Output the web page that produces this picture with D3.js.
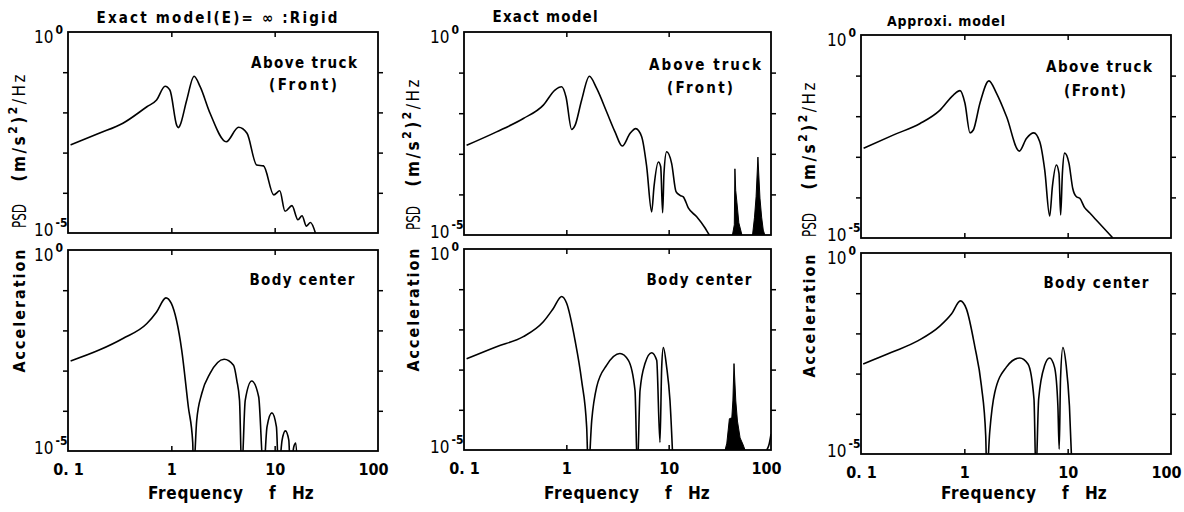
<!DOCTYPE html>
<html>
<head>
<meta charset="utf-8">
<script src="https://cdn.jsdelivr.net/npm/d3@7"></script>
<style>
  body { margin: 0; background: #fff; }
  svg text { font-family: "DejaVu Sans Condensed", "Liberation Sans Narrow", "DejaVu Sans", sans-serif; font-weight: bold; fill: #000; }
  svg text.thin { font-weight: normal; }
</style>
</head>
<body>
<div id="chart"></div>
<script>
// axis ticks
const xTicks = [0.1, 1, 10, 100];
const xTickLabels = ["0. 1", "1", "10", "100"];
const yDecades = [1e0, 1e-1, 1e-2, 1e-3, 1e-4, 1e-5];
const yTickExponents = ["0", "-5"];

// Exact model, rigid body (E = inf) - above truck (front)
const freqRigidFront = [0.106, 0.2, 0.34, 0.58, 0.72, 0.87, 0.97, 1.13, 1.17, 1.21, 1.41, 1.66, 1.90, 2.37, 3.4, 4.47, 5.4, 6.7, 7.8, 9.8, 11.2, 12.6, 14.7, 16.8, 18.4, 20.3, 22.2, 24.8];
const psdRigidFront = [1.55e-3, 3.02e-3, 5.37e-3, 1.38e-2, 2.04e-2, 4.47e-2, 3.55e-2, 4.68e-3, 4.17e-3, 4.68e-3, 2.04e-2, 7.94e-2, 4.37e-2, 9.55e-3, 1.86e-3, 4.27e-3, 3.02e-3, 4.9e-4, 4.68e-4, 8.9e-5, 1.12e-4, 3.47e-5, 4.79e-5, 2.14e-5, 2.69e-5, 1.48e-5, 1.82e-5, 1.0e-5];

// rigid - body center
const freqRigidBody = [0.106, 0.2, 0.34, 0.58, 0.72, 0.887, 1.0, 1.26, 1.46, 1.61, 1.64, 1.76, 1.97, 2.37, 3.24, 4.0, 4.3, 4.57, 4.8, 5.19, 6.0, 7.0, 7.8, 8.43, 9.4, 10.4, 10.9, 11.8, 12.7, 13.7, 14.2, 15.3, 16.0, 16.7];
const psdRigidBody = [1.74e-3, 3.24e-3, 6.3e-3, 1.48e-2, 2.88e-2, 6.46e-2, 4.68e-2, 3.24e-3, 1.26e-4, 1.66e-5, 3e-6, 5.75e-5, 2.69e-4, 8.5e-4, 1.91e-3, 1.35e-3, 5.75e-4, 1.82e-4, 3e-6, 1.82e-4, 5.5e-4, 2.24e-4, 3e-6, 3.98e-5, 8.9e-5, 3.98e-5, 3e-6, 1.86e-5, 3.16e-5, 1.86e-5, 3e-6, 1.26e-5, 1.58e-5, 3e-6];

// Exact model - above truck (front)
const freqExactFront = [0.106, 0.208, 0.38, 0.596, 0.774, 0.90, 0.993, 1.127, 1.216, 1.41, 1.68, 1.98, 2.48, 2.99, 3.52, 4.19, 4.76, 5.45, 6.10, 6.82, 7.19, 7.93, 8.36, 8.73, 9.0, 9.55, 10.7, 11.8, 12.9, 13.9, 15.6, 18.8, 22.6, 25, 27];
const psdExactFront = [1.62e-3, 3.47e-3, 7.4e-3, 1.58e-2, 3.72e-2, 4.47e-2, 2.51e-2, 3.98e-3, 5.0e-3, 2.09e-2, 8.1e-2, 4.07e-2, 1.07e-2, 3.47e-3, 1.55e-3, 3.16e-3, 4.17e-3, 2.63e-3, 4.79e-4, 3.72e-5, 1.55e-4, 6.3e-4, 4.79e-4, 3.55e-5, 3.31e-4, 1.12e-3, 5.75e-4, 1.17e-4, 9.5e-5, 8.7e-5, 4.57e-5, 2.82e-5, 1.51e-5, 1.0e-5, 8e-6];
// high-frequency bursts (envelopes, filled)
const freqExactFrontBurst1 = [42.0, 43.8, 44.4, 45.2, 46.5, 48.5, 52];
const psdExactFrontBurst1 = [1e-5, 1.78e-5, 4.27e-4, 1.26e-4, 6.17e-5, 2.0e-5, 1e-5];
const freqExactFrontBurst2 = [66, 69, 71.5, 74.5, 78, 81, 84, 87];
const psdExactFrontBurst2 = [1e-5, 2.75e-5, 8.7e-5, 8.3e-4, 8.1e-5, 2.75e-5, 1.32e-5, 1e-5];

// Exact model - body center
const freqExactBody = [0.106, 0.208, 0.38, 0.596, 0.746, 0.90, 1.007, 1.216, 1.41, 1.58, 1.64, 1.77, 1.98, 2.48, 3.34, 4.04, 4.69, 4.94, 5.25, 5.87, 6.82, 7.64, 8.22, 8.55, 8.87, 9.55, 10.3, 11.1];
const psdExactBody = [1.86e-3, 3.72e-3, 6.6e-3, 1.55e-2, 3.31e-2, 6.6e-2, 4.47e-2, 5.37e-3, 5.37e-4, 3.72e-5, 3e-6, 5.37e-5, 3.72e-4, 1.29e-3, 2.51e-3, 1.7e-3, 3.02e-4, 3e-6, 3.02e-4, 1.41e-3, 2.63e-3, 1.7e-3, 1.55e-5, 1.17e-3, 3.55e-3, 1.17e-3, 1.7e-4, 3e-6];
const freqExactBodyBurst = [35.6, 37, 39.2, 41.4, 42.4, 43.5, 45.3, 47, 49.9, 53, 55.8];
const psdExactBodyBurst = [1e-5, 1.48e-5, 6.0e-5, 6.3e-5, 1.66e-4, 1.41e-3, 1.66e-4, 5.25e-5, 2.0e-5, 1.41e-5, 1e-5];
const freqExactBodyEdge = [91, 96, 100];
const psdExactBodyEdge = [1e-5, 1.41e-5, 2.5e-5];

// Approximate model - above truck (front)
const freqApproxFront = [0.106, 0.207, 0.373, 0.582, 0.783, 0.908, 1.014, 1.135, 1.222, 1.416, 1.73, 2.05, 2.56, 3.40, 3.99, 4.70, 5.37, 6.0, 6.70, 7.11, 7.78, 8.24, 8.55, 8.89, 9.35, 10.3, 11.2, 12.1, 13.1, 14.6, 16.3, 19.6, 27.4];
const psdApproxFront = [1.62e-3, 3.47e-3, 6.6e-3, 1.41e-2, 3.31e-2, 4.27e-2, 2.09e-2, 3.89e-3, 4.57e-3, 2.09e-2, 7.41e-2, 3.63e-2, 9.8e-3, 1.38e-3, 2.82e-3, 3.89e-3, 2.34e-3, 4.68e-4, 3.47e-5, 1.82e-4, 6.3e-4, 3.89e-4, 3.72e-5, 3.89e-4, 1.23e-3, 6.9e-4, 1.66e-4, 1.05e-4, 9.5e-5, 5.6e-5, 4.17e-5, 2.51e-5, 1e-5];

// Approximate model - body center
const freqApproxBody = [0.105, 0.198, 0.358, 0.579, 0.75, 0.916, 1.047, 1.259, 1.462, 1.61, 1.65, 1.76, 1.97, 2.55, 3.43, 4.13, 4.72, 4.93, 5.24, 5.98, 6.68, 7.46, 8.04, 8.28, 8.53, 8.99, 9.68, 10.4, 11.07];
const psdApproxBody = [1.74e-3, 3.39e-3, 6.6e-3, 1.51e-2, 3.02e-2, 6.46e-2, 4.07e-2, 4.9e-3, 5.0e-4, 2.88e-5, 3e-6, 3.47e-5, 3.39e-4, 1.45e-3, 2.45e-3, 1.74e-3, 2.34e-4, 3e-6, 2.34e-4, 1.58e-3, 2.45e-3, 1.45e-3, 1.58e-4, 1.32e-5, 7.4e-4, 4.47e-3, 1.58e-3, 1.58e-4, 3e-6];

// panel frames (pixels)
const layout = [
  { x0: 68,  x1: 378,  y0: 32,  y1: 233 },
  { x0: 68,  x1: 378,  y0: 250, y1: 451 },
  { x0: 464, x1: 771,  y0: 32,  y1: 235 },
  { x0: 464, x1: 771,  y0: 249, y1: 450 },
  { x0: 861, x1: 1171, y0: 35,  y1: 238 },
  { x0: 861, x1: 1171, y0: 253, y1: 454 }
];

const panels = [
  { curve: [freqRigidFront, psdRigidFront], bursts: [], edges: [],
    notes: [["Above truck", 304, 68, 106], ["(Front)", 303, 90, 68]] },
  { curve: [freqRigidBody, psdRigidBody], bursts: [], edges: [], bottom: true,
    notes: [["Body center", 302, 285, 105]] },
  { curve: [freqExactFront, psdExactFront],
    bursts: [[freqExactFrontBurst1, psdExactFrontBurst1], [freqExactFrontBurst2, psdExactFrontBurst2]], edges: [],
    notes: [["Above truck", 705, 70, 112], ["(Front)", 700, 93, 66]] },
  { curve: [freqExactBody, psdExactBody],
    bursts: [[freqExactBodyBurst, psdExactBodyBurst]], edges: [[freqExactBodyEdge, psdExactBodyEdge]], bottom: true,
    notes: [["Body center", 699, 285, 105]] },
  { curve: [freqApproxFront, psdApproxFront], bursts: [], edges: [],
    notes: [["Above truck", 1099, 72, 106], ["(Front)", 1095, 96, 62]] },
  { curve: [freqApproxBody, psdApproxBody], bursts: [], edges: [], bottom: true,
    notes: [["Body center", 1096, 288, 105]] }
];

const titles = [
  ["Exact model(E)= \u221e :Rigid", 217, 23, 241, 15],
  ["Exact model", 545, 22, 105, 15],
  ["Approxi. model", 946, 26, 118, 14]
];

// y-axis caption per column: x, Acceleration y, PSD y, unit y
const yCaptions = [[19, 311, 216, 128], [413, 310, 218, 133], [809, 316, 225, 136]];

const svg = d3.select("#chart").append("svg")
  .attr("width", 1184)
  .attr("height", 512);

panels.forEach((p, i) => {
  const box = layout[i];
  const x = d3.scaleLog().domain([0.1, 100]).range([box.x0, box.x1]);
  const y = d3.scaleLog().domain([1e-5, 1]).range([box.y1, box.y0]);
  const g = svg.append("g");

  g.append("clipPath").attr("id", "clip" + i)
    .append("rect")
    .attr("x", box.x0).attr("y", box.y0)
    .attr("width", box.x1 - box.x0).attr("height", box.y1 - box.y0);

  const line = d3.line()
    .x(d => x(d[0]))
    .y(d => y(d[1]))
    .curve(d3.curveMonotoneX);

  g.append("path")
    .datum(d3.zip(p.curve[0], p.curve[1]))
    .attr("clip-path", `url(#clip${i})`)
    .attr("fill", "none")
    .attr("stroke", "#000")
    .attr("stroke-width", 1.6)
    .attr("stroke-linejoin", "round")
    .attr("d", line);

  // dense high-frequency response, drawn as filled envelope
  const area = d3.area()
    .x(d => x(d[0]))
    .y0(y(1e-5))
    .y1(d => y(d[1]));
  p.bursts.forEach(b => {
    g.append("path")
      .datum(d3.zip(b[0], b[1]))
      .attr("clip-path", `url(#clip${i})`)
      .attr("fill", "#000")
      .attr("stroke", "#000")
      .attr("stroke-width", 1)
      .attr("d", area);
  });
  p.edges.forEach(e => {
    g.append("path")
      .datum(d3.zip(e[0], e[1]))
      .attr("clip-path", `url(#clip${i})`)
      .attr("fill", "none")
      .attr("stroke", "#000")
      .attr("stroke-width", 1.6)
      .attr("d", line);
  });

  // inner ticks on all four sides
  const inner = yDecades.slice(1, -1);
  const tickAxes = [
    [d3.axisLeft(y).tickValues(inner), `translate(${box.x0},0)`],
    [d3.axisRight(y).tickValues(inner), `translate(${box.x1},0)`],
    [d3.axisTop(x).tickValues([1, 10]), `translate(0,${box.y1})`],
    [d3.axisBottom(x).tickValues([1, 10]), `translate(0,${box.y0})`]
  ];
  tickAxes.forEach(([ax, tr]) => {
    const a = g.append("g").attr("transform", tr)
      .call(ax.tickSize(5).tickFormat(""));
    a.select(".domain").remove();
    a.selectAll("line").attr("stroke-width", 1.5);
  });

  g.append("rect")
    .attr("x", box.x0).attr("y", box.y0)
    .attr("width", box.x1 - box.x0).attr("height", box.y1 - box.y0)
    .attr("fill", "none")
    .attr("stroke", "#000")
    .attr("stroke-width", 1.8);

  // y tick labels 10^0 and 10^-5
  [[box.y0 + 11, yTickExponents[0]], [box.y1 + 3, yTickExponents[1]]].forEach(([ty, ex]) => {
    const t = g.append("text")
      .attr("class", "thin")
      .attr("x", box.x0 - 34)
      .attr("y", ty)
      .attr("font-size", 17)
      .text("10");
    t.append("tspan")
      .attr("dx", 2)
      .attr("dy", -9)
      .attr("font-size", 12)
      .attr("font-weight", "bold")
      .text(ex);
  });

  if (p.bottom) {
    const xa = g.append("g")
      .attr("transform", `translate(0,${box.y1})`)
      .call(d3.axisBottom(x).tickValues(xTicks).tickSize(0).tickPadding(13)
        .tickFormat((d, k) => xTickLabels[k]));
    xa.select(".domain").remove();
    xa.selectAll("text")
      .attr("font-size", 16)
      .attr("font-family", null)
      .attr("dx", (d, k) => k === xTicks.length - 1 ? -5 : 0)
      .style("white-space", "pre");

    const lab = g.append("text").attr("y", 499).attr("font-size", 17);
    lab.append("tspan").attr("x", box.x0 + 80).attr("textLength", 95).text("Frequency");
    lab.append("tspan").attr("x", box.x0 + 201).text("f");
    lab.append("tspan").attr("x", box.x0 + 224).text("Hz");
  }

  p.notes.forEach(([txt, cx, by, len]) => {
    g.append("text")
      .attr("x", cx)
      .attr("y", by)
      .attr("text-anchor", "middle")
      .attr("font-size", 15)
      .attr("textLength", len)
      .attr("lengthAdjust", "spacing")
      .text(txt);
  });
});

titles.forEach(([txt, cx, by, len, fs]) => {
  svg.append("text")
    .attr("x", cx)
    .attr("y", by)
    .attr("text-anchor", "middle")
    .attr("font-size", fs)
    .attr("textLength", len)
    .attr("lengthAdjust", "spacing")
    .text(txt);
});

yCaptions.forEach(([cx, accY, psdY, unitY]) => {
  svg.append("text")
    .attr("transform", `translate(${cx},${accY}) rotate(-90)`)
    .attr("text-anchor", "middle")
    .attr("dy", "0.35em")
    .attr("font-size", 16)
    .attr("textLength", 123)
    .attr("lengthAdjust", "spacing")
    .text("Acceleration");

  svg.append("text")
    .attr("class", "thin")
    .attr("transform", `translate(${cx},${psdY}) rotate(-90)`)
    .attr("text-anchor", "middle")
    .attr("dy", "0.35em")
    .attr("font-size", 19)
    .attr("textLength", 24)
    .attr("lengthAdjust", "spacingAndGlyphs")
    .text("PSD");

  const u = svg.append("text")
    .attr("transform", `translate(${cx},${unitY}) rotate(-90)`)
    .attr("text-anchor", "middle")
    .attr("dy", "0.35em")
    .attr("font-size", 17)
    .attr("textLength", 107)
    .attr("lengthAdjust", "spacing");
  u.append("tspan").text("(m/s");
  u.append("tspan").attr("dy", -8).attr("font-size", 12).text("2");
  u.append("tspan").attr("dy", 8).text(")");
  u.append("tspan").attr("dy", -8).attr("font-size", 12).text("2");
  u.append("tspan").attr("dy", 8).attr("font-weight", "normal").text("/Hz");
});
</script>
</body>
</html>
